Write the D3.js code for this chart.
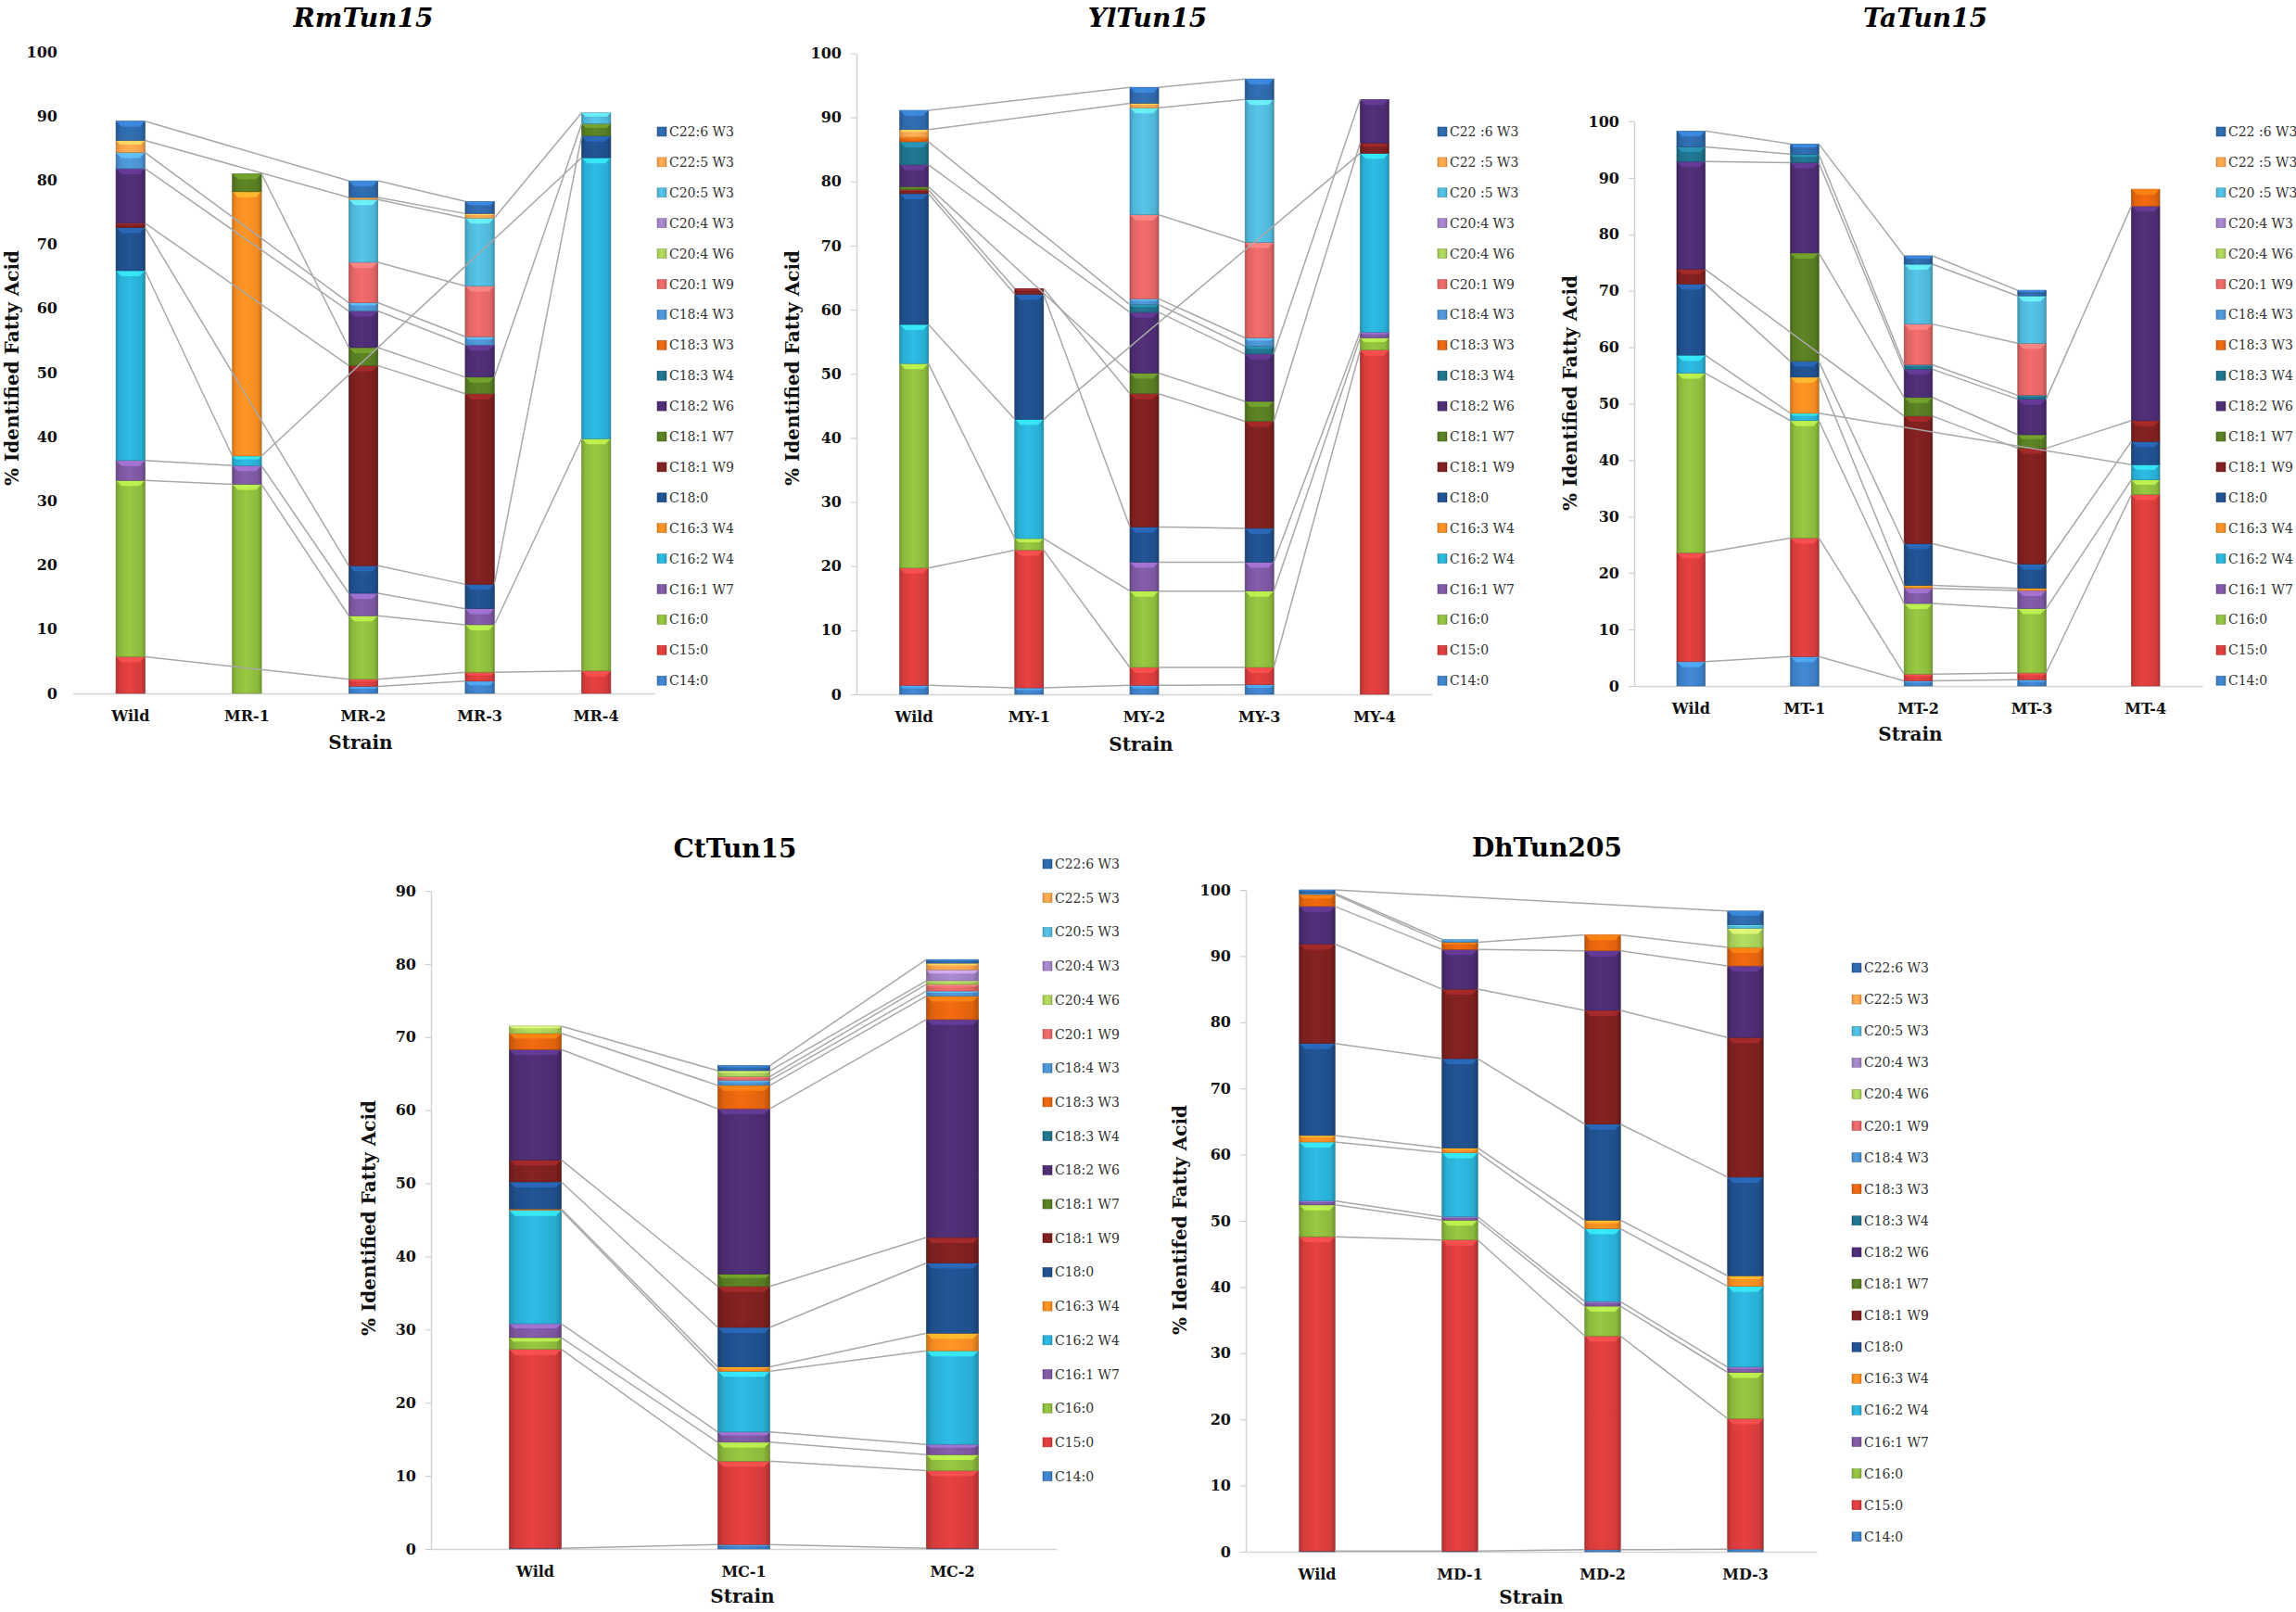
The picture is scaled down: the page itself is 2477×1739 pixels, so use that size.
<!DOCTYPE html>
<html><head><meta charset="utf-8">
<script src="https://cdn.jsdelivr.net/npm/d3@7"></script>
<style>body{margin:0;background:#fff} svg{display:block} text{font-family:"DejaVu Serif",serif}</style>
</head><body><svg id="c" width="2477" height="1739"></svg>
<script>
// ---------- series (stack order, bottom to top) ----------
const seriesNames = ["C14:0","C15:0","C16:0","C16:1 W7","C16:2 W4","C16:3 W4","C18:0","C18:1 W9","C18:1 W7","C18:2 W6","C18:3 W4","C18:3 W3","C18:4 W3","C20:1 W9","C20:4 W6","C20:4 W3","C20:5 W3","C22:5 W3","C22:6 W3"];
const seriesNamesSpaced = ["C14:0","C15:0","C16:0","C16:1 W7","C16:2 W4","C16:3 W4","C18:0","C18:1 W9","C18:1 W7","C18:2 W6","C18:3 W4","C18:3 W3","C18:4 W3","C20:1 W9","C20:4 W6","C20:4 W3","C20 :5 W3","C22 :5 W3","C22 :6 W3"];
const seriesColors = ["#3d7ec4","#d43b3b","#8cb83c","#7a569e","#29add2","#f28a22","#1f4e8a","#7b1f1f","#567a22","#4b2c70","#1f6f88","#e0620e","#4a8fcc","#e06464","#a6cc58","#9d80c0","#4fb5d6","#f5a04a","#2d66a6"];

// ---------- RmTun15 ----------
const rmStrains = ["Wild","MR-1","MR-2","MR-3","MR-4"];
const rmWild = [0, 5.7, 27.5, 3.1, 29.6, 0, 6.7, 0.7, 0, 8.5, 0, 0, 2.5, 0, 0, 0, 0, 1.9, 3.0];
const rmMR1  = [0, 0, 32.6, 2.9, 1.5, 41.2, 0, 0, 2.8, 0, 0, 0, 0, 0, 0, 0, 0, 0, 0];
const rmMR2  = [1.1, 1.1, 9.9, 3.5, 0, 0, 4.3, 31.2, 2.8, 5.7, 0, 0, 1.3, 6.3, 0, 0, 9.8, 0.3, 2.6];
const rmMR3  = [1.9, 1.4, 7.4, 2.5, 0, 0, 3.8, 29.7, 2.6, 5.0, 0, 0, 1.3, 7.9, 0, 0, 10.6, 0.7, 1.9];
const rmMR4  = [0, 3.5, 36.2, 0, 43.8, 0, 3.4, 0, 1.9, 0, 0, 0, 0, 0, 0, 0, 1.7, 0, 0];

// ---------- YlTun15 ----------
const ylStrains = ["Wild","MY-1","MY-2","MY-3","MY-4"];
const ylWild = [1.4, 18.3, 31.9, 0, 6.1, 0, 20.4, 0.6, 0.5, 3.4, 3.6, 0.7, 0, 0, 0, 0, 0, 1.2, 3.0];
const ylMY1  = [1.0, 21.5, 1.8, 0, 18.6, 0, 19.5, 0.9, 0, 0, 0, 0, 0, 0, 0, 0, 0, 0, 0];
const ylMY2  = [1.4, 2.8, 11.9, 4.5, 0, 0, 5.5, 20.8, 3.2, 9.5, 1.2, 0, 0.9, 13.1, 0, 0, 16.7, 0.7, 2.5];
const ylMY3  = [1.5, 2.7, 11.9, 4.5, 0, 0, 5.3, 16.7, 3.1, 7.4, 1.2, 0, 1.3, 14.9, 0, 0, 22.3, 0, 3.2];
const ylMY4  = [0, 53.7, 1.9, 0.9, 27.9, 0, 0, 1.6, 0, 6.8, 0, 0, 0, 0, 0, 0, 0, 0, 0];

// ---------- TaTun15 ----------
const taStrains = ["Wild","MT-1","MT-2","MT-3","MT-4"];
const taWild = [4.3, 19.3, 31.8, 0, 3.2, 0, 12.6, 2.6, 0, 19.1, 2.6, 0, 0, 0, 0, 0, 0, 0, 2.8];
const taMT1  = [5.2, 21.0, 20.8, 0, 1.3, 6.4, 2.8, 0, 19.2, 16.0, 1.5, 0, 0, 0, 0, 0, 0, 0, 1.8];
const taMT2  = [0.9, 1.2, 12.5, 2.7, 0, 0.5, 7.4, 22.6, 3.3, 5.0, 0.8, 0, 0, 7.2, 0, 0, 10.6, 0, 1.5];
const taMT3  = [1.1, 1.2, 11.4, 3.2, 0, 0.4, 4.3, 20.5, 2.4, 6.3, 0.7, 0, 0, 9.2, 0, 0, 8.4, 0, 1.0];
const taMT4  = [0, 33.9, 2.6, 0, 2.7, 0, 4.1, 3.7, 0, 38.0, 0, 3.0, 0, 0, 0, 0, 0, 0, 0];

// ---------- CtTun15 ----------
const ctStrains = ["Wild","MC-1","MC-2"];
const ctWild = [0.1, 27.2, 1.6, 1.9, 15.5, 0.2, 3.7, 3.0, 0, 15.1, 0, 2.2, 0, 0, 1.0, 0, 0, 0, 0];
const ctMC1  = [0.6, 11.4, 2.6, 1.4, 8.3, 0.6, 5.4, 5.6, 1.7, 22.6, 0, 3.2, 0.7, 0.5, 0.8, 0, 0, 0, 0.7];
const ctMC2  = [0.1, 10.6, 2.2, 1.4, 12.8, 2.4, 9.6, 3.5, 0, 29.8, 0, 3.2, 0.7, 0.9, 0.5, 1.5, 0, 0.9, 0.5];

// ---------- DhTun205 ----------
const dhStrains = ["Wild","MD-1","MD-2","MD-3"];
const dhWild = [0.1, 47.5, 4.8, 0.6, 8.9, 1.0, 13.9, 15.0, 0, 5.7, 0, 1.8, 0.2, 0, 0, 0, 0, 0, 0.5];
const dhMD1  = [0.1, 47.0, 3.0, 0.5, 9.7, 0.7, 13.5, 10.5, 0, 6.0, 0, 1.1, 0.4, 0, 0, 0, 0, 0, 0];
const dhMD2  = [0.3, 32.3, 4.5, 0.7, 11.0, 1.3, 14.5, 17.2, 0, 9.0, 0, 2.4, 0, 0, 0, 0, 0, 0, 0];
const dhMD3  = [0.4, 19.7, 7.0, 0.8, 12.2, 1.6, 14.9, 21.1, 0, 10.8, 0, 2.8, 0, 0, 2.9, 0, 0.5, 0, 2.1];

const ticks100 = [0,10,20,30,40,50,60,70,80,90,100];
const ticks90 = [0,10,20,30,40,50,60,70,80,90];

// ---------- layout ----------
const panels = [
  {title:"RmTun15", italic:true, strains:rmStrains, values:[rmWild,rmMR1,rmMR2,rmMR3,rmMR4], ymax:100, ticks:ticks100,
   x0:78, x1:706, y0:748, y1:56, titleX:392, titleY:29, yLine:false, yTitle:"% Identified Fatty Acid", yTitleX:13, yTitleY:397,
   strainX:389, strainY:808, legX:709, legY:142, legStep:32.9, legNames:seriesNames},
  {title:"YlTun15", italic:true, strains:ylStrains, values:[ylWild,ylMY1,ylMY2,ylMY3,ylMY4], ymax:100, ticks:ticks100,
   x0:924, x1:1545, y0:749, y1:57.5, titleX:1238, titleY:29, yLine:true, yTitle:"% Identified Fatty Acid", yTitleX:855, yTitleY:397,
   strainX:1231, strainY:810, legX:1551, legY:142, legStep:32.9, legNames:seriesNamesSpaced},
  {title:"TaTun15", italic:true, strains:taStrains, values:[taWild,taMT1,taMT2,taMT3,taMT4], ymax:100, ticks:ticks100,
   x0:1763, x1:2376, y0:740, y1:131, titleX:2077, titleY:29, yLine:true, yTitle:"% Identified Fatty Acid", yTitleX:1694, yTitleY:424,
   strainX:2061, strainY:799, legX:2391, legY:142, legStep:32.9, legNames:seriesNamesSpaced},
  {title:"CtTun15", italic:false, strains:ctStrains, values:[ctWild,ctMC1,ctMC2], ymax:90, ticks:ticks90,
   x0:465, x1:1140, y0:1671, y1:961, titleX:793, titleY:925, yLine:true, yTitle:"% Identified Fatty Acid", yTitleX:398, yTitleY:1314,
   strainX:801, strainY:1729, legX:1125, legY:932, legStep:36.7, legNames:seriesNames},
  {title:"DhTun205", italic:false, strains:dhStrains, values:[dhWild,dhMD1,dhMD2,dhMD3], ymax:100, ticks:ticks100,
   x0:1344, x1:1960, y0:1674, y1:960, titleX:1669, titleY:924, yLine:true, yTitle:"% Identifed Fatty Acid", yTitleX:1273, yTitleY:1316,
   strainX:1652, strainY:1730, legX:1998, legY:1044, legStep:34.1, legNames:seriesNames}
];

const svg = d3.select("#c");
const defs = svg.append("defs");
seriesColors.forEach((c,k)=>{
  const base = d3.color(c);
  const gr = defs.append("linearGradient").attr("id","g"+k).attr("x1","0").attr("x2","1").attr("y1","0").attr("y2","0");
  gr.append("stop").attr("offset","0").attr("stop-color", base.darker(0.5));
  gr.append("stop").attr("offset","0.12").attr("stop-color", base);
  gr.append("stop").attr("offset","0.45").attr("stop-color", base.brighter(0.25));
  gr.append("stop").attr("offset","0.88").attr("stop-color", base);
  gr.append("stop").attr("offset","1").attr("stop-color", base.darker(0.6));
});

function drawPanel(p){
  const g = svg.append("g");
  const x = d3.scaleBand().domain(p.strains).range([p.x0,p.x1]).paddingInner(0.75).paddingOuter(0.375);
  const y = d3.scaleLinear().domain([0,p.ymax]).range([p.y0,p.y1]);
  const bw = x.bandwidth();
  const rows = p.strains.map((s,i)=>{const o={}; seriesNames.forEach((n,k)=>o[k]=p.values[i][k]); return o;});
  const keys = seriesNames.map((n,k)=>k);
  const stacked = d3.stack().keys(keys)(rows);

  // axes
  const yAxis = g.append("g").attr("transform",`translate(${p.x0},0)`)
    .call(d3.axisLeft(y).tickValues(p.ticks).tickSize(6).tickSizeOuter(0).tickPadding(10));
  yAxis.selectAll("text").attr("font-size",16).attr("font-weight","bold").attr("fill","#111");
  yAxis.selectAll("line").attr("stroke", p.yLine ? "#c8c8c8" : "none");
  yAxis.select(".domain").attr("stroke", p.yLine ? "#d4d4d4" : "none").attr("stroke-width",1.5);

  const xAxis = g.append("g").attr("transform",`translate(0,${p.y0})`)
    .call(d3.axisBottom(x).tickSize(0).tickSizeOuter(0).tickPadding(19));
  xAxis.selectAll("text").attr("font-size",16).attr("font-weight","bold").attr("fill","#111");
  xAxis.select(".domain").attr("stroke","#d4d4d4").attr("stroke-width",1.5);

  // bars
  stacked.forEach((layer,k)=>{
    const base = d3.color(seriesColors[k]);
    layer.forEach((d,i)=>{
      if(!(p.values[i][k] > 0)) return;
      const bx = x(p.strains[i]);
      const top = y(d[1]), bot = y(d[0]);
      const h = bot - top;
      g.append("rect").attr("x",bx).attr("y",top).attr("width",bw).attr("height",h)
        .attr("fill","url(#g"+k+")").attr("stroke", base.darker(0.8)).attr("stroke-width",0.6);
      const b = Math.min(6, h/3);
      if (b > 0.6) {
        g.append("polygon")
          .attr("points",`${bx},${top} ${bx+bw},${top} ${bx+bw-b},${top+b} ${bx+b},${top+b}`)
          .attr("fill", base.brighter(1.0)).attr("opacity",0.75);
      }
    });
  });

  // series lines
  stacked.forEach((layer,k)=>{
    const idx = p.strains.map((s,i)=>i).filter(i=>p.values[i][k] > 0);
    for(let j=0;j<idx.length-1;j++){
      const a = idx[j], b = idx[j+1];
      g.append("line")
        .attr("x1", x(p.strains[a])+bw).attr("y1", y(layer[a][1]))
        .attr("x2", x(p.strains[b])).attr("y2", y(layer[b][1]))
        .attr("stroke","#a8a8a8").attr("stroke-width",1.5);
    }
  });

  // titles
  g.append("text").attr("x",p.titleX).attr("y",p.titleY).attr("text-anchor","middle")
    .attr("font-size",28).attr("font-weight","bold").attr("font-style",p.italic?"italic":"normal").attr("fill","#000").text(p.title);
  g.append("text").attr("x",p.strainX).attr("y",p.strainY).attr("text-anchor","middle")
    .attr("font-size",20).attr("font-weight","bold").attr("fill","#111").text("Strain");
  g.append("text").attr("transform",`translate(${p.yTitleX},${p.yTitleY}) rotate(-90)`)
    .attr("text-anchor","middle").attr("dominant-baseline","central")
    .attr("font-size",20).attr("font-weight","bold").attr("fill","#111").text(p.yTitle);

  // legend (reverse order: top = last series)
  const leg = g.append("g");
  for(let r=0;r<seriesNames.length;r++){
    const k = seriesNames.length-1-r;
    const ly = p.legY + r*p.legStep;
    leg.append("rect").attr("x",p.legX).attr("y",ly-5).attr("width",10).attr("height",10)
      .attr("fill","url(#g"+k+")").attr("stroke",d3.color(seriesColors[k]).darker(0.8)).attr("stroke-width",0.5);
    leg.append("text").attr("x",p.legX+13).attr("y",ly).attr("dominant-baseline","central")
      .attr("font-size",14).attr("fill","#333").text(p.legNames[k]);
  }
}
panels.forEach(drawPanel);
</script></body></html>
